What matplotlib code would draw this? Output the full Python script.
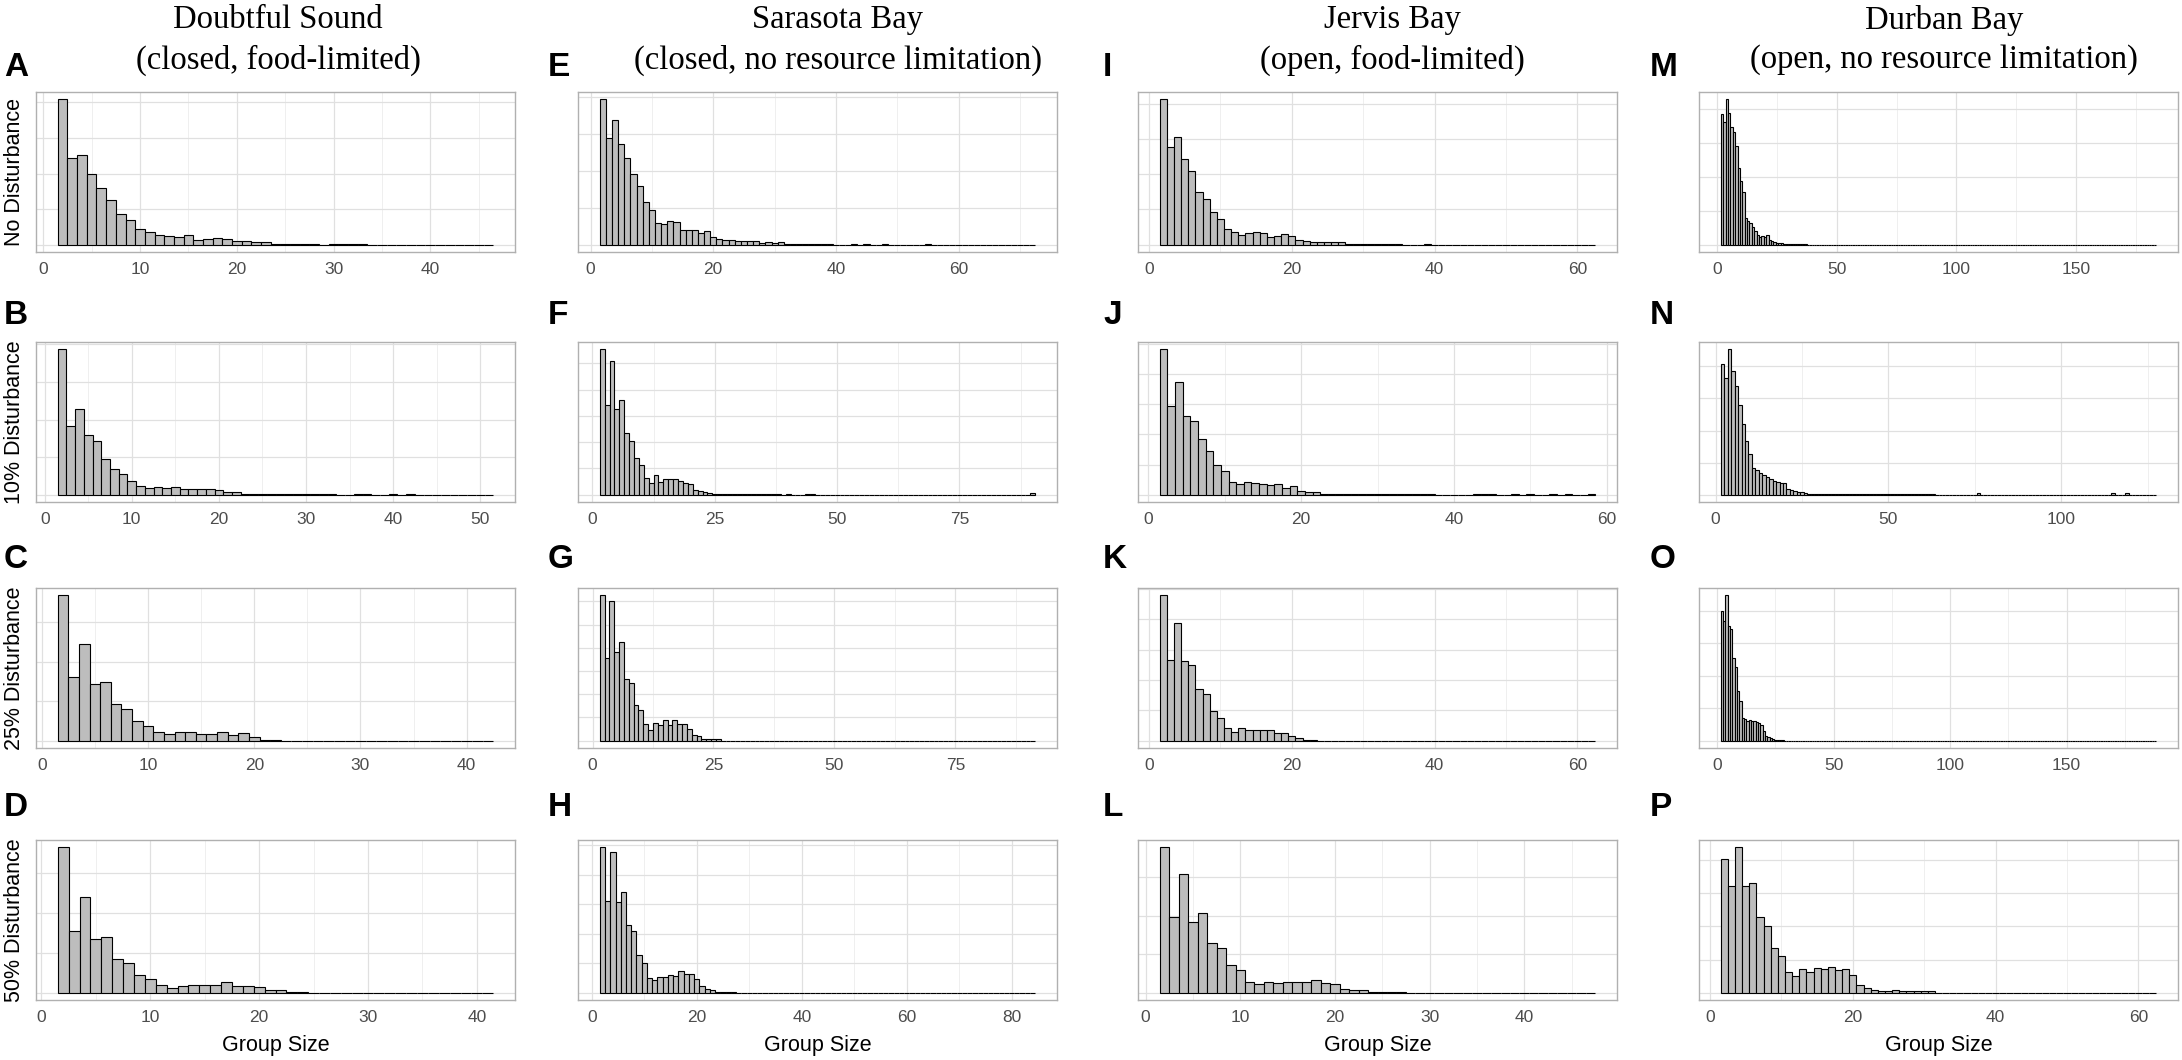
import matplotlib
matplotlib.use("Agg")
import numpy as np
import matplotlib.pyplot as plt
from matplotlib.ticker import MultipleLocator

# relative frequency of each group size
# (heights start at group size 2; tails are isolated small bins)
sites = ["Doubtful Sound", "Sarasota Bay", "Jervis Bay", "Durban Bay"]
site_notes = ["(closed, food-limited)", "(closed, no resource limitation)",
              "(open, food-limited)", "(open, no resource limitation)"]
row_labels = ["No Disturbance", "10% Disturbance", "25% Disturbance", "50% Disturbance"]
letters = ["A", "B", "C", "D", "E", "F", "G", "H", "I", "J", "K", "L", "M", "N", "O", "P"]

a_heights = [4.09, 2.44, 2.51, 2.00, 1.60, 1.26, 0.86, 0.70, 0.45, 0.35, 0.28, 0.25, 0.22, 0.26,
             0.14, 0.17, 0.20, 0.17, 0.10, 0.10, 0.07, 0.07, 0.03, 0.03, 0.03, 0.03, 0.03, 0.0,
             0.02, 0.02, 0.02, 0.02]
a_tail = []
a_max = 46

b_heights = [3.87, 1.84, 2.27, 1.60, 1.42, 0.94, 0.68, 0.54, 0.36, 0.23, 0.18, 0.20, 0.18, 0.20,
             0.16, 0.16, 0.15, 0.15, 0.13, 0.07, 0.06, 0.02, 0.02, 0.02, 0.02, 0.02, 0.02, 0.02,
             0.02, 0.02, 0.02, 0.02]
b_tail = [(36, 0.02), (37, 0.02), (40, 0.02), (42, 0.02)]
b_max = 51

c_heights = [3.69, 1.62, 2.46, 1.45, 1.48, 0.94, 0.81, 0.49, 0.37, 0.21, 0.18, 0.21, 0.21, 0.18,
             0.18, 0.21, 0.15, 0.19, 0.09, 0.03, 0.02]
c_tail = []
c_max = 42

d_heights = [3.65, 1.55, 2.39, 1.35, 1.41, 0.84, 0.74, 0.45, 0.34, 0.19, 0.11, 0.18, 0.19, 0.19,
             0.19, 0.26, 0.17, 0.17, 0.14, 0.06, 0.06, 0.03, 0.03]
d_tail = []
d_max = 41

e_heights = [3.94, 2.89, 3.38, 2.73, 2.35, 1.92, 1.59, 1.16, 0.94, 0.60, 0.56, 0.64, 0.61, 0.40,
             0.40, 0.40, 0.31, 0.38, 0.20, 0.15, 0.12, 0.13, 0.11, 0.11, 0.09, 0.11, 0.06, 0.07,
             0.04, 0.07, 0.03, 0.03, 0.03, 0.03, 0.03, 0.03, 0.03, 0.03]
e_tail = [(43, 0.03), (45, 0.03), (48, 0.03), (55, 0.03)]
e_max = 72

f_heights = [5.54, 3.40, 5.08, 3.28, 3.60, 2.37, 2.06, 1.41, 1.13, 0.64, 0.45, 0.77, 0.49, 0.59,
             0.59, 0.59, 0.51, 0.46, 0.40, 0.17, 0.13, 0.10, 0.08, 0.04, 0.04, 0.04, 0.04, 0.04,
             0.04, 0.04, 0.04, 0.04, 0.04, 0.04, 0.04, 0.04, 0.04]
f_tail = [(40, 0.04), (44, 0.04), (45, 0.04), (90, 0.05)]
f_max = 90

g_heights = [6.26, 3.58, 6.03, 3.81, 4.25, 2.67, 2.47, 1.53, 1.31, 0.74, 0.48, 0.77, 0.67, 0.88,
             0.67, 0.88, 0.72, 0.72, 0.51, 0.23, 0.19, 0.07, 0.07, 0.07, 0.07]
g_tail = []
g_max = 91

h_heights = [4.93, 3.11, 4.78, 3.07, 3.41, 2.28, 2.09, 1.27, 1.02, 0.50, 0.42, 0.53, 0.53, 0.61,
             0.58, 0.73, 0.63, 0.63, 0.47, 0.22, 0.14, 0.10, 0.04, 0.04, 0.04, 0.04]
h_tail = []
h_max = 84

i_heights = [4.12, 2.77, 3.06, 2.42, 2.09, 1.48, 1.29, 0.94, 0.73, 0.44, 0.36, 0.27, 0.32, 0.35,
             0.34, 0.23, 0.25, 0.29, 0.25, 0.12, 0.11, 0.09, 0.07, 0.07, 0.07, 0.07, 0.03, 0.03,
             0.03, 0.03, 0.03, 0.03, 0.03, 0.03]
i_tail = [(39, 0.03)]
i_max = 62

j_heights = [4.82, 2.95, 3.73, 2.62, 2.43, 1.86, 1.44, 1.00, 0.78, 0.42, 0.34, 0.43, 0.40, 0.34,
             0.31, 0.36, 0.23, 0.30, 0.13, 0.10, 0.08, 0.04, 0.04, 0.04, 0.04, 0.04, 0.04, 0.04,
             0.04, 0.04, 0.04, 0.04, 0.04, 0.04, 0.04, 0.04]
j_tail = [(43, 0.04), (44, 0.04), (45, 0.04), (48, 0.04), (50, 0.04), (53, 0.04), (55, 0.04),
          (58, 0.04)]
j_max = 58

k_heights = [4.79, 2.66, 3.87, 2.62, 2.49, 1.70, 1.53, 0.98, 0.75, 0.42, 0.30, 0.41, 0.35, 0.35,
             0.35, 0.35, 0.26, 0.26, 0.16, 0.09, 0.03, 0.03]
k_tail = []
k_max = 62

l_heights = [3.78, 1.96, 3.09, 1.83, 2.07, 1.29, 1.16, 0.72, 0.59, 0.29, 0.23, 0.29, 0.26, 0.29,
             0.29, 0.29, 0.33, 0.26, 0.23, 0.10, 0.06, 0.06, 0.03, 0.03, 0.03, 0.03]
l_tail = []
l_max = 47

m_heights = [3.86, 3.60, 4.28, 3.88, 3.45, 3.32, 2.91, 2.27, 1.88, 1.54, 0.80, 0.69, 0.63, 0.53,
             0.39, 0.28, 0.24, 0.26, 0.24, 0.29, 0.15, 0.12, 0.07, 0.06, 0.04, 0.04, 0.02, 0.02,
             0.02, 0.02, 0.02, 0.02, 0.02, 0.02, 0.02, 0.02]
m_tail = []
m_max = 183

n_heights = [4.06, 3.65, 4.53, 3.85, 3.39, 2.80, 2.20, 1.68, 1.28, 0.83, 0.78, 0.67, 0.62, 0.56,
             0.49, 0.44, 0.40, 0.36, 0.35, 0.18, 0.15, 0.11, 0.07, 0.07, 0.06, 0.03, 0.03, 0.03,
             0.03, 0.03, 0.03, 0.03, 0.03, 0.03, 0.03, 0.03, 0.03, 0.03, 0.03, 0.03, 0.03, 0.03,
             0.03, 0.03, 0.03, 0.03, 0.03, 0.03, 0.03, 0.03, 0.03, 0.03, 0.03, 0.03, 0.03, 0.03,
             0.03, 0.03, 0.03, 0.03, 0.03, 0.03]
n_tail = [(76, 0.04), (115, 0.04), (119, 0.04)]
n_max = 127

o_heights = [4.00, 3.69, 4.48, 3.54, 3.45, 2.56, 2.27, 1.53, 1.22, 0.70, 0.68, 0.62, 0.65, 0.62,
             0.60, 0.58, 0.55, 0.49, 0.31, 0.15, 0.10, 0.08, 0.05, 0.03, 0.03, 0.03, 0.03]
o_tail = []
o_max = 188

p_heights = [4.03, 3.20, 4.38, 3.20, 3.30, 2.29, 2.02, 1.35, 1.11, 0.63, 0.51, 0.70, 0.63, 0.73,
             0.70, 0.78, 0.68, 0.70, 0.52, 0.24, 0.14, 0.09, 0.05, 0.04, 0.07, 0.04, 0.04, 0.04,
             0.04, 0.04]
p_tail = []
p_max = 62

# x tick spacing per panel
x_steps = [10, 10, 10, 10, 20, 25, 25, 20, 20, 20, 20, 10, 50, 50, 50, 20]

panels = [
    (a_heights, a_tail, a_max), (b_heights, b_tail, b_max),
    (c_heights, c_tail, c_max), (d_heights, d_tail, d_max),
    (e_heights, e_tail, e_max), (f_heights, f_tail, f_max),
    (g_heights, g_tail, g_max), (h_heights, h_tail, h_max),
    (i_heights, i_tail, i_max), (j_heights, j_tail, j_max),
    (k_heights, k_tail, k_max), (l_heights, l_tail, l_max),
    (m_heights, m_tail, m_max), (n_heights, n_tail, n_max),
    (o_heights, o_tail, o_max), (p_heights, p_tail, p_max),
]

W, H = 2182, 1060
fig = plt.figure(figsize=(W / 100, H / 100), dpi=100)

SANS = ["Liberation Sans", "DejaVu Sans"]
SERIF = ["Liberation Serif", "DejaVu Serif"]

col_left = [36, 578, 1138, 1699]
row_top = [92, 342, 588, 840]
ax_w, ax_h = 479, 160
letter_x = [4, 548, 1103, 1650]
letter_y = [68, 316, 560, 808]
title_x = [278, 838, 1392, 1944]


def draw_hist(ax, heights, tail, max_size, step):
    sizes = np.arange(2, max_size + 1)
    freq = np.zeros(len(sizes))
    freq[:len(heights)] = heights
    for s, h in tail:
        freq[s - 2] = h
    ax.bar(sizes, freq, width=1, color="#bdbdbd", edgecolor="black", linewidth=0.8, zorder=3)

    lo, hi = 1.5, max_size + 0.5
    pad = 0.05 * (hi - lo)
    ax.set_xlim(lo - pad, hi + pad)
    top = max(heights)
    ax.set_ylim(-0.05 * top, 1.05 * top)

    ax.xaxis.set_major_locator(MultipleLocator(step))
    ax.xaxis.set_minor_locator(MultipleLocator(step / 2))
    ax.yaxis.set_major_locator(MultipleLocator(1))
    ax.grid(which="major", color="#e0e0e0", linewidth=0.9, zorder=0)
    ax.grid(which="minor", axis="x", color="#ececec", linewidth=0.6, zorder=0)
    ax.set_axisbelow(True)

    ax.tick_params(which="both", length=0, labelleft=False, pad=7,
                   labelsize=12.5, labelcolor="#4d4d4d")
    for lab in ax.get_xticklabels():
        lab.set_family(SANS)
    for sp in ax.spines.values():
        sp.set_color("#b0b0b0")
        sp.set_linewidth(1.0)


for c in range(4):
    for r in range(4):
        k = c * 4 + r
        left = col_left[c] / W
        bottom = 1 - (row_top[r] + ax_h) / H
        ax = fig.add_axes([left, bottom, ax_w / W, ax_h / H])
        heights, tail, max_size = panels[k]
        draw_hist(ax, heights, tail, max_size, x_steps[k])

        fig.text(letter_x[c] / W, 1 - letter_y[r] / H, letters[k], ha="left", va="center",
                 fontsize=24, fontweight="bold", family=SANS)

        if c == 0:
            fig.text(15 / W, 1 - (row_top[r] + ax_h / 2) / H, row_labels[r], rotation=90,
                     ha="center", va="center", fontsize=15.5, family=SANS)
        if r == 3:
            fig.text((col_left[c] + ax_w / 2) / W, 1 - (row_top[r] + ax_h + 45) / H,
                     "Group Size", ha="center", va="center", fontsize=15.5, family=SANS)

    fig.text(title_x[c] / W, 1 - 20 / H, sites[c], ha="center", va="center",
             fontsize=23.5, family=SERIF)
    fig.text(title_x[c] / W, 1 - 60 / H, site_notes[c], ha="center", va="center",
             fontsize=23.5, family=SERIF)

fig.savefig("out.png", dpi=100, facecolor="white")
